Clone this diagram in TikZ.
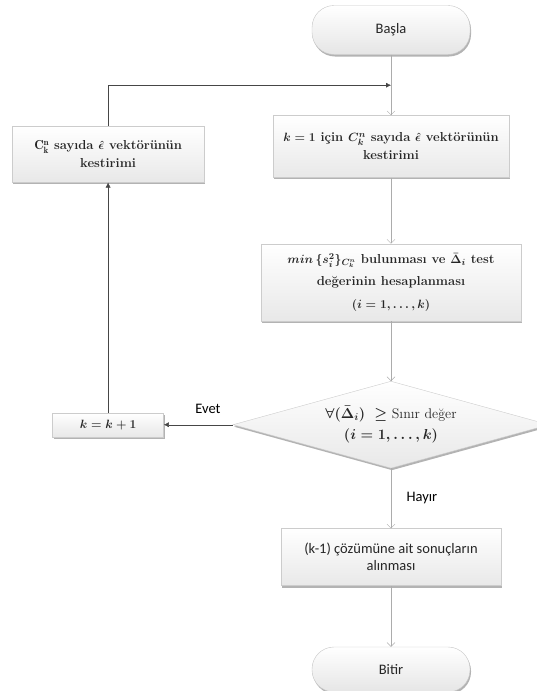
\documentclass[tikz,border=0pt]{standalone}
\usepackage{amssymb}
\usepackage{amsmath}
\usepackage{bm}
\usepackage{fontspec}
\newfontfamily\calibri{Carlito}
\usetikzlibrary{shapes.geometric,arrows.meta,positioning,shadows}
\tikzstyle{startstop} = [rectangle, rounded corners=22pt, minimum width=158pt, text centered, draw=gray!45, top color=white, bottom color=gray!20, drop shadow={shadow xshift=1pt, shadow yshift=-2pt, fill=black!50, opacity=0.6}, font=\calibri\fontsize{14.5}{17}\selectfont]
\tikzstyle{action} = [rectangle, inner sep=0pt, align=center, draw=gray!40, top color=white, bottom color=gray!18, drop shadow={shadow xshift=1pt, shadow yshift=-2pt, fill=black!50, opacity=0.6}, font=\fontsize{13}{18}\selectfont\bfseries\boldmath]
\tikzstyle{decision} = [diamond, aspect=3.6, inner sep=0pt, minimum width=316pt, minimum height=87pt, align=center, draw=gray!40, top color=white, bottom color=gray!18, drop shadow={shadow xshift=1pt, shadow yshift=-2pt, fill=black!50, opacity=0.6}, font=\fontsize{14}{21}\selectfont\boldmath]
\tikzstyle{arrow} = [gray!65, -{Straight Barb[length=4pt,width=8pt]}]
\tikzstyle{backarrow} = [gray!55!black, -{Latex[length=5pt,width=5pt]}]
\tikzstyle{label} = [black, font=\calibri\fontsize{14.5}{17}\selectfont]

\begin{document}
\begin{tikzpicture}[x=1pt, y=1pt, text=black!85]
\useasboundingbox (0,0) rectangle (537,-691);

\node(start)   [startstop, minimum height=49pt] at (391,-30)       {Başla};
\coordinate[below=30.5pt of start] (join);
\node(estim)   [action, minimum width=236pt, minimum height=62pt, below=60.5pt of start]
               {$k=1$ için $C_k^n$ sayıda $\hat{\bm{\epsilon}}$ vektörünün\\ kestirimi};
\node(minsum)  [action, minimum width=260pt, minimum height=77pt, below=66pt of estim, font=\fontsize{13}{22.5}\selectfont\bfseries\boldmath]
               {$min\,\{s_i^2\}_{C_k^n}$ bulunması ve $\bar{\Delta}_i$ test\\ değerinin hesaplanması\\ $(i=1,\dots,k)$};
\node(test)    [decision, below=60pt of minsum]
               {$\forall(\bar{\Delta}_i)\ \geq$ Sınır değer\\ $(i=1,\dots,k)$};
\node(result)  [action, minimum width=220pt, minimum height=57pt, below=60pt of test, font=\calibri\fontsize{14.5}{17}\selectfont]
               {(k-1) çözümüne ait sonuçların\\ alınması};
\node(stop)    [startstop, minimum height=45pt, below=61pt of result] {Bitir};
\node(incr)    [action, minimum width=111pt, minimum height=24pt, left=69pt of test] {$k=k+1$};
\node(reestim) [action, minimum width=192pt, minimum height=56pt, above=230pt of incr]
               {$\mathrm{C}_\mathrm{k}^\mathrm{n}$ sayıda $\hat{\bm{\epsilon}}$ vektörünün\\ kestirimi};

\draw [arrow] (start)  -- (estim);
\draw [arrow] (estim)  -- (minsum);
\draw [arrow] (minsum) -- (test);
\draw [arrow] (test)   -- node[label, right=12pt]{Hayır} (result);
\draw [arrow] (result) -- (stop);
\draw [backarrow] (test)    -- node[label, above=8pt, pos=0.36]{Evet} (incr);
\draw [backarrow] (incr)    -- (reestim);
\draw [backarrow] (reestim) |- (join);

\end{tikzpicture}
\end{document}
